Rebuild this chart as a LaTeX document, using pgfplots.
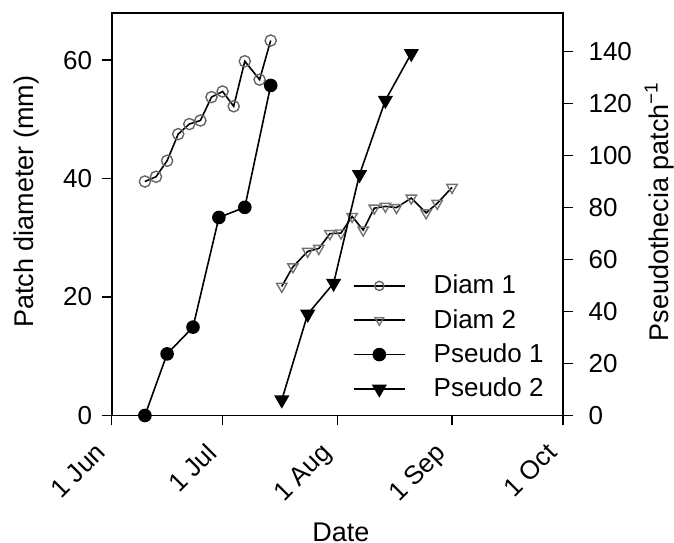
\documentclass[border=0pt]{standalone}
\usepackage{pgfplots}
\pgfplotsset{compat=1.18}
\usepackage{fontspec}
\setmainfont{Liberation Sans}
\pgfplotsset{
  every axis/.append style={font=\fontsize{13}{15}\selectfont, line width=0.9pt},
  /pgf/number format/assume math mode=true,
}
\begin{document}
\begin{tikzpicture}
\begin{axis}[
  name=ax1,
  scale only axis, width=225.7pt, height=201.4pt,
  xmin=0, xmax=122, ymin=0, ymax=68,
  xtick={0,30,61,92,122},
  xticklabels={1 Jun,1 Jul,1 Aug,1 Sep,1 Oct},
  xticklabel style={xshift=-8.8pt, yshift=-6.1pt, rotate=45, anchor=north east, inner sep=1pt},
  ytick={0,20,40,60},
  yticklabel style={xshift=-1pt},
  xtick pos=bottom, ytick pos=left,
  tick align=outside, major tick length=5pt,
  xlabel={Date}, ylabel={Patch diameter (mm)},
  xlabel style={at={(rel axis cs:0.5077,-0.3133)}, anchor=base, inner sep=0pt, font=\fontsize{13.5}{15}\selectfont},
  ylabel style={at={(rel axis cs:-0.1719,0.531)}, rotate=0, anchor=base, inner sep=0pt, font=\fontsize{13.5}{15}\selectfont},
  tick style={black, line width=0.8pt},
]
\addplot[black, line width=0.8pt, mark=o, mark size=2.8pt, mark options={draw=black!60, fill=white, line width=0.7pt}] coordinates {
(9,39.5)(12,40.3)(15,43.0)(18,47.5)(21,49.2)(24,49.8)(27,53.75)(30,54.7)(33,52.2)(36,59.8)(40,56.7)(43,63.3)};
\addplot[black, line width=0.8pt, mark=triangle, mark size=3pt, mark options={rotate=180, draw=black!55, fill=white, line width=0.7pt}] coordinates {
(46,21.8)(49,25.1)(53,27.7)(56,28.2)(59,30.7)(62,30.8)(65,33.6)(68,31.3)(71,35.0)(74,35.3)(77,35.1)(81,36.7)(85,34.2)(88,35.8)(92,38.5)};
\end{axis}
\begin{axis}[
  scale only axis, width=225.7pt, height=201.4pt,
  xmin=0, xmax=122, ymin=0, ymax=155,
  xtick=\empty,
  ytick={0,20,40,60,80,100,120,140},
  ytick pos=right, yticklabel pos=right,
  yticklabel style={xshift=4pt},
  tick align=outside, major tick length=5pt,
  ylabel={Pseudothecia patch\textsuperscript{−1}},
  ylabel style={at={(rel axis cs:1.2326,0.5065)}, rotate=0, anchor=base, inner sep=0pt, font=\fontsize{13.5}{15}\selectfont},
  tick style={black, line width=0.8pt},
  legend style={at={(rel axis cs:0.5326,0.361)}, anchor=north west, draw=none, fill=none, inner sep=0pt, row sep=2.25pt, font=\fontsize{13}{15}\selectfont,
    /tikz/every odd column/.append style={column sep=12pt}},
  legend cell align=left,
  legend image code/.code={\draw[#1, mark=none] (0cm,0cm) -- (0.9cm,0cm); \draw[#1, only marks] plot coordinates {(0.45cm,0cm)};},
]
\addlegendimage{black, line width=0.8pt, mark=o, mark size=2.3pt, mark options={draw=black!60, fill=white, line width=0.7pt}}
\addlegendentry{Diam 1}
\addlegendimage{black, line width=0.8pt, mark=triangle, mark size=2.5pt, mark options={rotate=180, draw=black!55, fill=white, line width=0.7pt}}
\addlegendentry{Diam 2}
\addplot[black, line width=0.8pt, mark=*, mark size=3pt, mark options={fill=black}] coordinates {
(9,0)(15,23.7)(22,34.0)(29,76.2)(36,80.1)(43,127.0)};
\addlegendentry{Pseudo 1}
\addplot[black, line width=0.8pt, mark=triangle*, mark size=3.6pt, mark options={rotate=180, fill=black}] coordinates {
(46,6.0)(53,39.0)(60,50.9)(67,92.7)(74,121.3)(81,139.3)};
\addlegendentry{Pseudo 2}
\end{axis}
\path ([shift={(-55.8pt,-63.75pt)}]ax1.south west) rectangle ([shift={(55.5pt,6.35pt)}]ax1.north east);
\end{tikzpicture}
\end{document}
